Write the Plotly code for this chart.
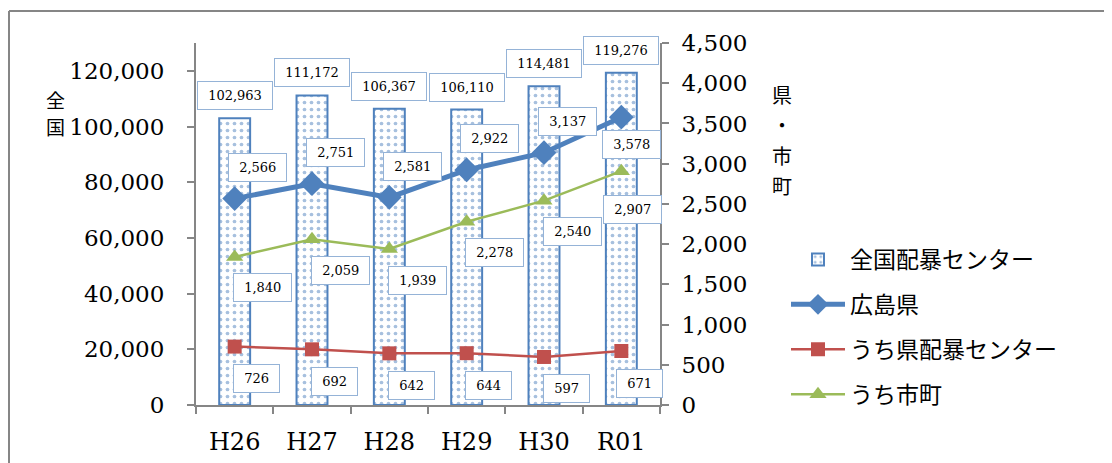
import plotly.graph_objects as go

categories = ["H26", "H27", "H28", "H29", "H30", "R01"]
national = [102963, 111172, 106367, 106110, 114481, 119276]
hiroshima = [2566, 2751, 2581, 2922, 3137, 3578]
pref_center = [726, 692, 642, 644, 597, 671]
municipal = [1840, 2059, 1939, 2278, 2540, 2907]

names = ["全国配暴センター", "広島県", "うち県配暴センター", "うち市町"]
left_title = ["全", "国"]
right_title = ["県", "・", "市", "町"]

BLUE = "#4F81BD"
RED = "#C0504D"
GREEN = "#9BBB59"
AXIS = "#868686"
LBL_BORDER = "#95B3D7"
NUM_FONT = "DejaVu Serif"
JP_FONT = "Noto Sans CJK JP"

# label offsets (pixels) : style only
blue_off = [(23, 31)] * 5 + [(10, -27)]
green_off = [(28, -31)] * 5 + [(11, -38)]
red_off = [(22, -32)] * 5 + [(18, -32)]

fig = go.Figure()

fig.add_trace(go.Bar(
    x=categories, y=national, name=names[0], width=0.4,
    marker=dict(color="white", line=dict(color=BLUE, width=2),
                pattern=dict(shape=".", fgcolor=BLUE, bgcolor="white", size=7, solidity=0.22)),
    legendgroup="a", yaxis="y",
))
fig.add_trace(go.Scatter(
    x=categories, y=hiroshima, name=names[1], mode="lines+markers",
    line=dict(color=BLUE, width=5), marker=dict(symbol="diamond", size=19, color=BLUE),
    legendgroup="b", yaxis="y2",
))
fig.add_trace(go.Scatter(
    x=categories, y=pref_center, name=names[2], mode="lines+markers",
    line=dict(color=RED, width=2.5), marker=dict(symbol="square", size=14, color=RED),
    legendgroup="c", yaxis="y2",
))
fig.add_trace(go.Scatter(
    x=categories, y=municipal, name=names[3], mode="lines+markers",
    line=dict(color=GREEN, width=2.5), marker=dict(symbol="triangle-up", size=15, color=GREEN),
    legendgroup="d", yaxis="y2",
))

ann = []
NB = "\u00a0"


def lab(x, y, yref, text, dx, dy, yanchor="middle"):
    return dict(x=x, y=y, xref="x", yref=yref, text=NB + text + NB, showarrow=False,
                xshift=dx, yshift=dy, xanchor="center", yanchor=yanchor,
                font=dict(family=NUM_FONT, size=13, color="black"),
                bgcolor="white", bordercolor=LBL_BORDER, borderwidth=1, borderpad=6)


for c, v in zip(categories, national):
    ann.append(lab(c, v, "y", f"{v:,}", 0, 8, "bottom"))
for (c, v), (dx, dy) in zip(zip(categories, hiroshima), blue_off):
    ann.append(lab(c, v, "y2", f"{v:,}", dx, dy))
for (c, v), (dx, dy) in zip(zip(categories, municipal), green_off):
    ann.append(lab(c, v, "y2", f"{v:,}", dx, dy))
for (c, v), (dx, dy) in zip(zip(categories, pref_center), red_off):
    ann.append(lab(c, v, "y2", f"{v:,}", dx, dy))

# page has an 8px body margin, so figure coordinates are page coordinates - 8
W, H = 1104, 455
L, R, T, B = 188, 652, 35, 397


def px(xp):
    return (xp - L) / (R - L)


def py(yp):
    return (B - yp) / (B - T)


# vertical axis titles, one character per line
for i, ch in enumerate(left_title):
    ann.append(dict(x=px(47), y=py(91 + 28 * i), xref="paper", yref="paper", text=ch,
                    showarrow=False, xanchor="center", yanchor="middle",
                    font=dict(family=JP_FONT, size=19, color="black")))
for i, ch in enumerate(right_title):
    ann.append(dict(x=px(774), y=py(87 + 30 * i), xref="paper", yref="paper", text=ch,
                    showarrow=False, xanchor="center", yanchor="middle",
                    font=dict(family=JP_FONT, size=20, color="black")))

shapes = [
    dict(type="line", xref="paper", yref="paper", x0=px(1), x1=px(1200), y0=py(3), y1=py(3),
         line=dict(color=AXIS, width=2)),
    dict(type="line", xref="paper", yref="paper", x0=px(1), x1=px(1), y0=py(3), y1=py(520),
         line=dict(color=AXIS, width=2)),
]

fig.update_layout(
    width=W, height=H,
    margin=dict(l=L, r=W - R, t=T, b=H - B, autoexpand=False),
    paper_bgcolor="white", plot_bgcolor="white",
    showlegend=True,
    legend=dict(x=px(778), y=py(230), xanchor="left", yanchor="top",
                traceorder="grouped", tracegroupgap=12, itemwidth=54,
                font=dict(family=JP_FONT, size=23, color="black"),
                bgcolor="rgba(0,0,0,0)"),
    xaxis=dict(type="category", showline=True, linecolor=AXIS, linewidth=2,
               ticks="outside", ticklen=7, tickcolor=AXIS, tickwidth=2, tickson="boundaries",
               tickfont=dict(family=NUM_FONT, size=24, color="black"), showgrid=False,
               range=[-0.5, 5.5], ticklabelstandoff=14),
    yaxis=dict(range=[0, 130000], dtick=20000, tickformat=",", showline=True, linecolor=AXIS,
               linewidth=2, ticks="outside", ticklen=7, tickcolor=AXIS, tickwidth=2,
               tickfont=dict(family=NUM_FONT, size=23, color="black"), showgrid=False,
               zeroline=False, ticklabelstandoff=18),
    yaxis2=dict(range=[0, 4500], dtick=500, tickformat=",", overlaying="y", side="right",
                showline=True, linecolor=AXIS, linewidth=2, ticks="outside", ticklen=7,
                tickcolor=AXIS, tickwidth=2,
                tickfont=dict(family=NUM_FONT, size=23, color="black"), showgrid=False,
                zeroline=False, ticklabelstandoff=8),
    annotations=ann,
    shapes=shapes,
)

fig.write_html("out.html")
